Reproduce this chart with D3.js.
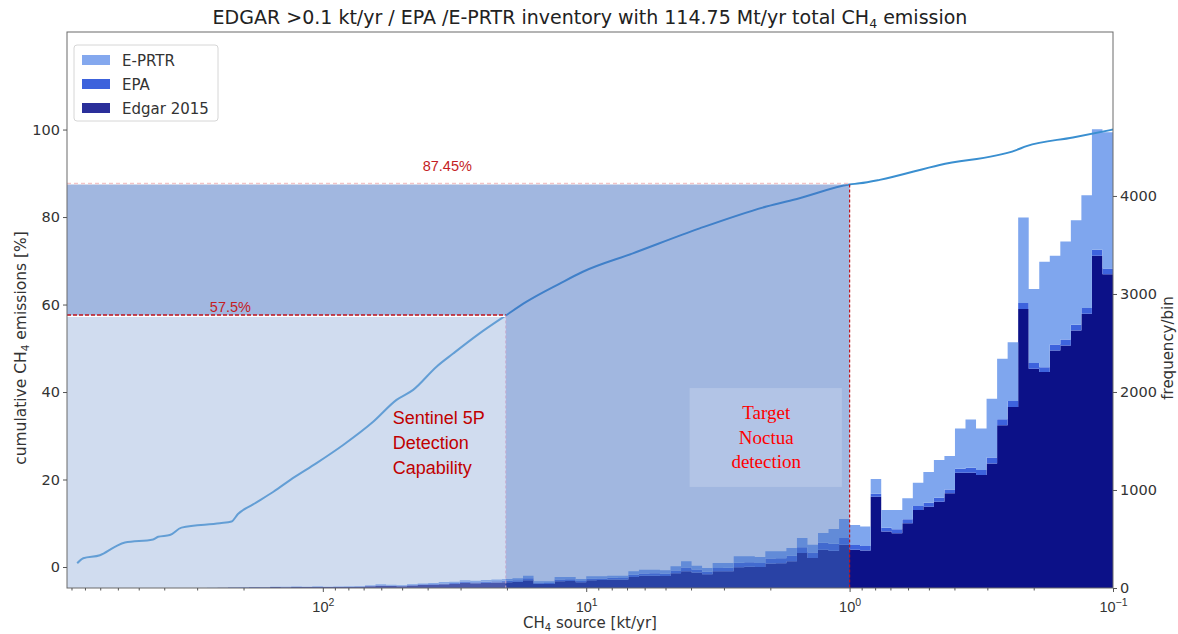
<!DOCTYPE html>
<html>
<head>
<meta charset="utf-8">
<script src="https://cdn.jsdelivr.net/npm/d3@7"></script>
<style>
  body { margin: 0; background: #fff; }
  svg { display: block; font-family: "DejaVu Sans", sans-serif; }
</style>
</head>
<body>
<div id="chart"></div>
<script>
// histogram bins: 100 log bins from 10^3 down to 10^-1 kt/yr (left to right on the axis)
const BIN_LOG_START = 3;
const BIN_LOG_STEP = -0.04;

const edgarCounts = [
  0, 0, 0, 0, 0, 0, 0, 0, 0, 0, 0, 0, 1, 0, 1, 2, 5, 6, 7, 7, 9, 8, 10, 9, 11,
  9, 10, 11, 13, 18, 24, 21, 19, 26, 30, 33, 38, 42, 51, 48, 52, 56, 59, 64, 80, 44, 42, 70, 72, 58,
  80, 82, 88, 86, 112, 124, 126, 122, 150, 170, 158, 140, 170, 172, 212, 218, 214, 250, 252, 272, 357, 306, 391, 380, 442,
  390, 383, 932, 576, 559, 661, 797, 830, 881, 966, 1176, 1176, 1153, 1271, 1661, 1847, 2847, 2237, 2203, 2424, 2475, 2627, 2797, 3390, 3200
];
const epaCounts = [
  0, 0, 0, 0, 0, 0, 0, 0, 0, 0, 0, 0, 0, 0, 0, 0, 1, 1, 2, 1, 2, 2, 2, 2, 3,
  2, 2, 3, 3, 4, 5, 5, 4, 6, 7, 8, 9, 10, 12, 11, 12, 13, 14, 15, 19, 10, 10, 17, 17, 14,
  15, 14, 16, 17, 22, 24, 24, 23, 28, 38, 30, 26, 35, 34, 45, 44, 42, 50, 52, 56, 60, 56, 70, 72, 68,
  50, 45, 30, 40, 40, 40, 40, 40, 40, 40, 40, 50, 50, 60, 60, 60, 60, 60, 50, 60, 60, 60, 60, 60, 60
];
const eprtrCounts = [
  0, 0, 0, 0, 0, 0, 0, 0, 0, 0, 0, 0, 0, 0, 1, 1, 1, 2, 2, 2, 2, 2, 3, 3, 3,
  3, 4, 4, 4, 6, 9, 6, 7, 8, 10, 11, 13, 13, 17, 16, 18, 19, 19, 21, 27, 14, 16, 25, 23, 20,
  24, 23, 22, 23, 36, 39, 37, 35, 43, 64, 40, 38, 50, 49, 66, 61, 60, 74, 70, 80, 93, 80, 100, 150, 194,
  204, 199, 150, 181, 198, 214, 238, 313, 384, 340, 411, 493, 424, 601, 618, 601, 873, 754, 1076, 906, 1001, 1066, 1150, 1230, 1390
];

// cumulative share of emissions vs source strength
const curveSource = [856, 812, 702, 616, 564, 441, 422, 381, 344, 246, 222, 210, 184, 154, 130, 106,
  83.7, 64.4, 52.5, 45.4, 37.0, 32.0, 25.4, 20.2, 16.9, 12.6, 10.3, 6.65, 3.71, 2.07, 1.55, 1.0,
  0.916, 0.769, 0.455, 0.233, 0.213, 0.142, 0.1];
const curvePercent = [0.85, 2.0, 2.7, 4.6, 5.6, 6.3, 6.9, 7.3, 9.0, 10.0, 10.4, 12.1, 14.3, 17.2, 20.3, 23.7,
  27.9, 33.2, 38.2, 40.5, 45.8, 48.8, 53.4, 57.5, 60.6, 64.8, 67.5, 71.7, 77.4, 82.4, 84.3, 87.45,
  87.7, 88.5, 91.9, 95.3, 96.2, 98.2, 100];

const leftTicks = [0, 20, 40, 60, 80, 100];
const rightTicks = [0, 1000, 2000, 3000, 4000];
const xMajorTicks = [100, 10, 1, 0.1];

const SENTINEL_LIMIT = 20.2;
const SENTINEL_SHARE = 57.5;
const NOCTUA_LIMIT = 1;
const NOCTUA_SHARE = 87.45;

const SERIES = ["edgar", "epa", "eprtr"];
const LEGEND = [
  { key: "eprtr", label: "E-PRTR", color: "#84a8ee" },
  { key: "epa", label: "EPA", color: "#3c62dc" },
  { key: "edgar", label: "Edgar 2015", color: "#2a2f9a" }
];
const BAR_COLORS = { edgar: "#0c1188", epa: "#3d63dd", eprtr: "#7fa6ee" };

const W = 1178, H = 634;
const plot = { left: 67, right: 1113, top: 32, bottom: 588 };
const TICK_FONT = "14.5px";
const LABEL_FONT = "15px";

const svg = d3.select("#chart").append("svg").attr("width", W).attr("height", H);

const x = d3.scaleLog().domain([936, 0.1]).range([plot.left, plot.right]);
const yL = d3.scaleLinear().domain([-4.8, 122.3]).range([plot.bottom, plot.top]);
const yR = d3.scaleLinear().domain([0, 5673]).range([plot.bottom, plot.top]);

svg.append("clipPath").attr("id", "clip").append("rect")
  .attr("x", plot.left).attr("y", plot.top)
  .attr("width", plot.right - plot.left).attr("height", plot.bottom - plot.top);

const body = svg.append("g").attr("clip-path", "url(#clip)");

// histogram (stacked, drawn as filled steps)
const bins = edgarCounts.map((d, i) => ({
  x0: Math.pow(10, BIN_LOG_START + BIN_LOG_STEP * i),
  x1: Math.pow(10, BIN_LOG_START + BIN_LOG_STEP * (i + 1)),
  edgar: edgarCounts[i],
  epa: epaCounts[i],
  eprtr: eprtrCounts[i]
}));
const stacked = d3.stack().keys(SERIES)(bins);

const stepArea = d3.area()
  .x((d) => x(d.x))
  .y0((d) => yR(d.y0))
  .y1((d) => yR(d.y1))
  .curve(d3.curveStepAfter);

body.selectAll(".layer")
  .data(stacked)
  .enter()
  .append("path")
  .attr("class", "layer")
  .attr("fill", (s) => BAR_COLORS[s.key])
  .attr("d", (s) => {
    const pts = s.map((d) => ({ x: d.data.x0, y0: d[0], y1: d[1] }));
    const last = s[s.length - 1];
    pts.push({ x: last.data.x1, y0: last[0], y1: last[1] });
    return stepArea(pts);
  });

// cumulative curve (drawn under the shaded overlays)
const line = d3.line().x((d) => x(d[0])).y((d) => yL(d[1])).curve(d3.curveMonotoneX);
body.append("path")
  .datum(curveSource.map((s, i) => [s, curvePercent[i]]))
  .attr("d", line)
  .attr("fill", "none")
  .attr("stroke", "#3a8fd0")
  .attr("stroke-width", 2);

// shaded detection regions
const xL = plot.left;
const xS = x(SENTINEL_LIMIT);
const xN = x(NOCTUA_LIMIT);
const yS = yL(SENTINEL_SHARE);
const yN = yL(NOCTUA_SHARE);

body.append("path")
  .attr("d", `M${xL},${yN}H${xN}V${plot.bottom}H${xS}V${yS}H${xL}Z`)
  .attr("fill", "rgb(70,113,194)").attr("opacity", 0.51);
body.append("rect").attr("x", xL).attr("y", yS).attr("width", xS - xL).attr("height", plot.bottom - yS)
  .attr("fill", "rgb(151,177,219)").attr("opacity", 0.45);

// guide lines
body.append("line").attr("x1", xL).attr("x2", xN).attr("y1", yN - 1).attr("y2", yN - 1)
  .attr("stroke", "#f3c5c8").attr("stroke-width", 1.5).attr("stroke-dasharray", "4,3");
body.append("line").attr("x1", xL).attr("x2", xS).attr("y1", yS + 0.8).attr("y2", yS + 0.8)
  .attr("stroke", "#fff").attr("stroke-width", 1.5);
body.append("line").attr("x1", xL).attr("x2", xS).attr("y1", yS - 0.5).attr("y2", yS - 0.5)
  .attr("stroke", "#c0141c").attr("stroke-width", 1.5).attr("stroke-dasharray", "4,2");
body.append("line").attr("x1", xN).attr("x2", xN).attr("y1", yN).attr("y2", plot.bottom)
  .attr("stroke", "#c0141c").attr("stroke-width", 1.2).attr("stroke-dasharray", "3,2");
body.append("line").attr("x1", xS).attr("x2", xS).attr("y1", yS).attr("y2", plot.bottom)
  .attr("stroke", "#c8a8cc").attr("stroke-width", 1).attr("stroke-dasharray", "3,2");

// percentage labels
svg.append("text").attr("x", (xL + xN) / 2 - 11).attr("y", yN - 13)
  .attr("text-anchor", "middle").attr("fill", "#c41e24")
  .style("font-family", "'Liberation Sans', Arial, sans-serif").style("font-size", "14.5px")
  .text(NOCTUA_SHARE + "%");
svg.append("text").attr("x", (xL + xS) / 2 - 56).attr("y", yS - 3)
  .attr("text-anchor", "middle").attr("fill", "#c41e24")
  .style("font-family", "'Liberation Sans', Arial, sans-serif").style("font-size", "14.5px")
  .text(SENTINEL_SHARE + "%");

// Sentinel 5P label
const sentinel = svg.append("text").attr("fill", "#c00000")
  .style("font-family", "'Liberation Sans', Arial, sans-serif").style("font-size", "18px");
["Sentinel 5P", "Detection", "Capability"].forEach((t, i) => {
  sentinel.append("tspan").attr("x", xS - 113).attr("y", yL(28.3) + 6 + (i - 1) * 25).text(t);
});

// Target Noctua box + label
const bx0 = x(4.05), bx1 = x(1.07), by0 = yL(40.9), by1 = yL(18.3);
svg.append("rect").attr("x", bx0).attr("y", by0).attr("width", bx1 - bx0).attr("height", by1 - by0)
  .attr("fill", "#fff").attr("opacity", 0.19);
const noctua = svg.append("text").attr("fill", "#ff0000").attr("text-anchor", "middle")
  .style("font-family", "'Liberation Serif', 'Times New Roman', serif").style("font-size", "19px");
["Target", "Noctua", "detection"].forEach((t, i) => {
  noctua.append("tspan").attr("x", (bx0 + bx1) / 2 + 0.5).attr("y", (by0 + by1) / 2 + 6 + (i - 1) * 24.5).text(t);
});

// frame
svg.append("rect").attr("x", plot.left).attr("y", plot.top)
  .attr("width", plot.right - plot.left).attr("height", plot.bottom - plot.top)
  .attr("fill", "none").attr("stroke", "#6a6a6a").attr("stroke-width", 1);

// axes
const styleAxis = (g) => {
  g.select(".domain").remove();
  g.selectAll(".tick line").attr("stroke", "#555");
  g.selectAll(".tick text").attr("fill", "#333").style("font-size", TICK_FONT)
    .style("font-family", "'DejaVu Sans', sans-serif");
};

svg.append("g").attr("transform", `translate(${plot.left},0)`)
  .call(d3.axisLeft(yL).tickValues(leftTicks).tickSize(4).tickPadding(3))
  .call(styleAxis);

svg.append("g").attr("transform", `translate(${plot.right},0)`)
  .call(d3.axisRight(yR).tickValues(rightTicks).tickSize(4).tickPadding(3).tickFormat(d3.format("d")))
  .call(styleAxis);

const minor = x.ticks().filter((v) => !xMajorTicks.some((m) => Math.abs(v / m - 1) < 1e-6));
svg.append("g").attr("transform", `translate(0,${plot.bottom})`)
  .call(d3.axisBottom(x).tickValues(minor).tickSize(2.5).tickFormat(""))
  .call(styleAxis);

const xAxis = svg.append("g").attr("transform", `translate(0,${plot.bottom})`)
  .call(d3.axisBottom(x).tickValues(xMajorTicks).tickSize(4).tickFormat(""))
  .call(styleAxis);
xAxis.selectAll(".tick").append("text")
  .attr("y", 24).attr("text-anchor", "middle").attr("fill", "#333")
  .style("font-size", TICK_FONT)
  .each(function (d) {
    const t = d3.select(this);
    const e = Math.round(Math.log10(d));
    t.append("tspan").text("10");
    t.append("tspan").attr("dy", -6.5).style("font-size", "10.5px").text(e < 0 ? "\u2212" + -e : e);
  });

// titles
const title = svg.append("text").attr("x", 590).attr("y", 24).attr("text-anchor", "middle")
  .attr("fill", "#222").style("font-size", "19px");
title.append("tspan").text("EDGAR >0.1 kt/yr / EPA /E-PRTR inventory with 114.75 Mt/yr total CH");
title.append("tspan").attr("dy", 4).style("font-size", "12.5px").text("4");
title.append("tspan").attr("dy", -4).text(" emission");

const xLabel = svg.append("text").attr("x", 590).attr("y", 628).attr("text-anchor", "middle")
  .attr("fill", "#333").style("font-size", LABEL_FONT);
xLabel.append("tspan").text("CH");
xLabel.append("tspan").attr("dy", 3).style("font-size", "10px").text("4");
xLabel.append("tspan").attr("dy", -3).text(" source [kt/yr]");

const yLabel = svg.append("text").attr("transform", "translate(26,348) rotate(-90)")
  .attr("text-anchor", "middle").attr("fill", "#333").style("font-size", "15.5px");
yLabel.append("tspan").text("cumulative CH");
yLabel.append("tspan").attr("dy", 3).style("font-size", "10.5px").text("4");
yLabel.append("tspan").attr("dy", -3).text(" emissions [%]");

svg.append("text").attr("transform", "translate(1173,348) rotate(-90)")
  .attr("text-anchor", "middle").attr("fill", "#333").style("font-size", LABEL_FONT)
  .text("frequency/bin");

// legend
const legend = svg.append("g").attr("transform", "translate(74,45)");
legend.append("rect").attr("width", 144).attr("height", 76).attr("rx", 3)
  .attr("fill", "#fff").attr("fill-opacity", 0.85).attr("stroke", "#d6d6d6");
LEGEND.forEach((d, i) => {
  legend.append("rect").attr("x", 8).attr("y", 10 + i * 24).attr("width", 28).attr("height", 10)
    .attr("fill", d.color);
  legend.append("text").attr("x", 48).attr("y", 20.5 + i * 24).attr("fill", "#333")
    .style("font-size", LABEL_FONT).text(d.label);
});
</script>
</body>
</html>
